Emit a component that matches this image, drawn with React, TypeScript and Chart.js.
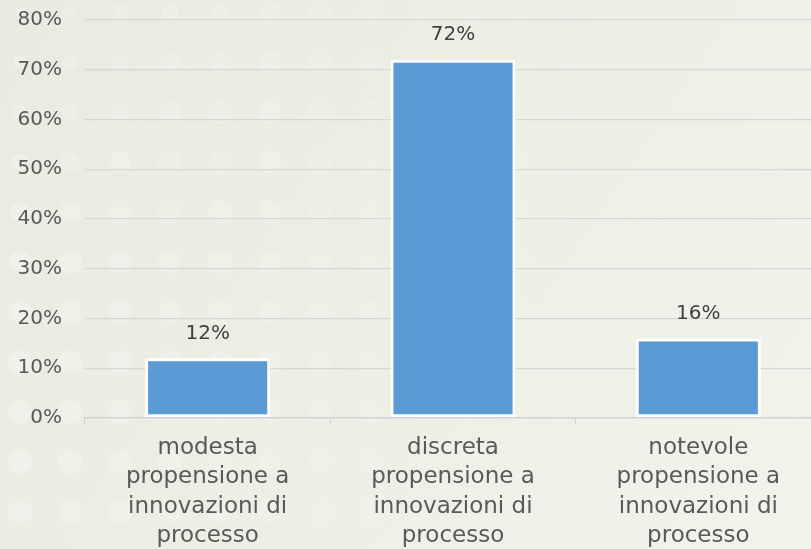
import React, { useEffect, useRef } from "react";
import { Chart, registerables } from "chart.js";

Chart.register(...registerables);

const categories: string[][] = [
  ["modesta", "propensione a", "innovazioni di", "processo"],
  ["discreta", "propensione a", "innovazioni di", "processo"],
  ["notevole", "propensione a", "innovazioni di", "processo"],
];
const values: number[] = [12, 72, 16];
const yTicks: number[] = [0, 10, 20, 30, 40, 50, 60, 70, 80];

const FONT = "'DejaVu Sans', sans-serif";

const backgroundPlugin = {
  id: "bgPlugin",
  beforeDraw(chart: any) {
    const { ctx, width, height } = chart;
    ctx.save();
    const g = ctx.createLinearGradient(0, 0, width, height);
    g.addColorStop(0, "#E9EBE0");
    g.addColorStop(0.5, "#EDEFE5");
    g.addColorStop(1, "#F2F4EC");
    ctx.fillStyle = g;
    ctx.fillRect(0, 0, width, height);
    for (let yy = 12; yy < height + 20; yy += 50) {
      for (let xx = 20; xx < width; xx += 50) {
        const fade = Math.max(0, 1 - xx / 700);
        if (fade <= 0) continue;
        const r = Math.min(12, 4 + (xx + yy) / 40);
        ctx.beginPath();
        ctx.fillStyle = `rgba(255,255,255,${0.25 * fade})`;
        ctx.arc(xx, yy, r, 0, Math.PI * 2);
        ctx.fill();
      }
    }
    ctx.restore();
  },
};

const labelPlugin = {
  id: "valueLabels",
  afterDatasetsDraw(chart: any) {
    const { ctx } = chart;
    const meta = chart.getDatasetMeta(0);
    ctx.save();
    ctx.font = `20px ${FONT}`;
    ctx.fillStyle = "#404040";
    ctx.textAlign = "center";
    ctx.textBaseline = "middle";
    meta.data.forEach((bar: any, i: number) => {
      ctx.fillText(values[i] + "%", bar.x, bar.y - 25);
    });
    ctx.restore();
  },
};

export default function App() {
  const ref = useRef<HTMLCanvasElement>(null);
  useEffect(() => {
    if (!ref.current) return;
    const chart = new Chart(ref.current, {
      type: "bar",
      data: {
        labels: categories,
        datasets: [
          {
            data: values,
            backgroundColor: "#5B9BD5",
            borderColor: "#FFFFFF",
            borderWidth: 3,
            borderSkipped: false,
            barPercentage: 0.51,
            categoryPercentage: 1,
          },
        ],
      },
      options: {
        responsive: false,
        animation: false,
        maintainAspectRatio: false,
        layout: { padding: { top: 20, left: 0, right: 1, bottom: 0 } },
        plugins: {
          legend: { display: false },
          tooltip: { enabled: false },
        },
        scales: {
          x: {
            grid: {
              drawOnChartArea: false,
              drawTicks: true,
              tickLength: 6,
              color: "#D0D0D0",
              offset: true,
            },
            border: { display: true, color: "#D0D0D0", width: 1.3 },
            ticks: {
              font: { family: FONT, size: 23, lineHeight: 1.28 },
              color: "#595959",
              padding: 9,
              maxRotation: 0,
              autoSkip: false,
            },
            afterFit(scale: any) {
              scale.height = 131;
            },
          },
          y: {
            min: 0,
            max: 80,
            afterBuildTicks(scale: any) {
              scale.ticks = yTicks.map((v) => ({ value: v }));
            },
            grid: {
              color: "#D6D6D6",
              lineWidth: 1.3,
              drawTicks: true,
              tickLength: 23,
              tickColor: "rgba(0,0,0,0)",
            },
            border: { display: false },
            ticks: {
              font: { family: FONT, size: 20 },
              color: "#595959",
              padding: 0,
              callback: (v: any) => v + "%",
            },
            afterFit(scale: any) {
              scale.width = 85;
            },
          },
        },
      },
      plugins: [backgroundPlugin, labelPlugin],
    });
    return () => chart.destroy();
  }, []);
  return (
    <div
      style={{
        position: "fixed",
        left: 0,
        top: 0,
        width: 811,
        height: 549,
        overflow: "hidden",
      }}
    >
      <canvas ref={ref} width={822} height={549} style={{ display: "block" }} />
    </div>
  );
}
